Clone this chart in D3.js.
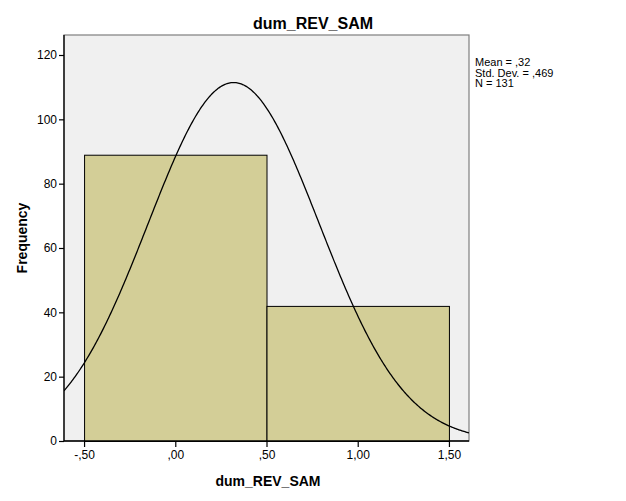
<!DOCTYPE html>
<html><head><meta charset="utf-8">
<script src="https://cdn.jsdelivr.net/npm/d3@7"></script>
<style>body{margin:0;background:#fff}svg{display:block}text{font-family:Arial,"Liberation Sans",sans-serif}</style>
</head><body>
<script>
const binStarts = [-0.5, 0.5];
const binEnds = [0.5, 1.5];
const frequencies = [89, 42];
const xTicks = [-0.5, 0, 0.5, 1, 1.5];
const xTickLabels = ["-,50", ",00", ",50", "1,00", "1,50"];
const yTicks = [0, 20, 40, 60, 80, 100, 120];
const statLines = ["Mean = ,32", "Std. Dev. = ,469", "N = 131"];
const mean = [0.32], stdDev = [0.469], nTotal = [131];

const W = 626, H = 501;
const m = {left: 64, right: 469, top: 35, bottom: 441};
const svg = d3.select("body").append("svg").attr("width", W).attr("height", H);
const x = d3.scaleLinear().domain([-0.61, 1.61]).range([m.left, m.right]);
const y = d3.scaleLinear().domain([0, 120]).range([m.bottom, 55]);

svg.append("rect").attr("x", m.left).attr("y", m.top).attr("width", m.right - m.left).attr("height", m.bottom - m.top)
  .attr("fill", "#f0f0f0").attr("stroke", "#7f7f7f").attr("stroke-width", 1.2);

const bins = frequencies.map((f, i) => ({x0: binStarts[i], x1: binEnds[i], f}));
svg.selectAll("rect.bar").data(bins).enter().append("rect").attr("class", "bar")
  .attr("x", d => x(d.x0) + 0.5).attr("y", d => y(d.f) + 0.5)
  .attr("width", d => x(d.x1) - x(d.x0)).attr("height", d => y(0) - y(d.f))
  .attr("fill", "#d3ce97").attr("stroke", "#000").attr("stroke-width", 1);

// normal curve from reported mean/sd/N, bin width 1
const bw = binEnds[0] - binStarts[0];
const pdf = v => nTotal[0] * bw / (stdDev[0] * Math.sqrt(2 * Math.PI)) * Math.exp(-0.5 * Math.pow((v - mean[0]) / stdDev[0], 2));
const xs = d3.range(0, 401).map(i => -0.61 + i * (2.22 / 400));
const clip = svg.append("clipPath").attr("id", "c").append("rect").attr("x", m.left).attr("y", m.top).attr("width", m.right - m.left).attr("height", m.bottom - m.top);
svg.append("path").datum(xs).attr("clip-path", "url(#c)")
  .attr("d", d3.line().x(v => x(v)).y(v => y(pdf(v))).curve(d3.curveLinear))
  .attr("fill", "none").attr("stroke", "#000").attr("stroke-width", 1.3);

const xa = svg.append("g").attr("transform", `translate(0,${m.bottom})`)
  .call(d3.axisBottom(x).tickValues(xTicks).tickFormat((d, i) => xTickLabels[i]).tickSize(6).tickPadding(3));
const ya = svg.append("g").attr("transform", `translate(${m.left},0)`)
  .call(d3.axisLeft(y).tickValues(yTicks).tickSize(5).tickPadding(2));
[xa, ya].forEach(a => {
  a.select(".domain").attr("stroke", "#000").attr("stroke-width", 1.3);
  a.selectAll(".tick line").attr("stroke", "#000").attr("stroke-width", 1.2);
  a.selectAll("text").attr("font-size", 12).attr("fill", "#000").style("font-family", "Arial, 'Liberation Sans', sans-serif");
});
xa.select(".domain").attr("d", `M${m.left},0H${m.right}`);
ya.select(".domain").attr("d", `M0,${m.bottom}V${m.top}`);

svg.append("text").attr("x", 313).attr("y", 29).attr("text-anchor", "middle")
  .attr("font-size", 16).attr("font-weight", "bold").text("dum_REV_SAM");
svg.append("text").attr("x", 268).attr("y", 486).attr("text-anchor", "middle")
  .attr("font-size", 14).attr("font-weight", "bold").text("dum_REV_SAM");
svg.append("text").attr("transform", "translate(27,238) rotate(-90)").attr("text-anchor", "middle")
  .attr("font-size", 14).attr("font-weight", "bold").text("Frequency");

svg.selectAll("text.stat").data(statLines).enter().append("text").attr("class", "stat")
  .attr("x", 475).attr("y", (d, i) => 66 + i * 10.5).attr("font-size", 11).text(d => d);
</script>
</body></html>
